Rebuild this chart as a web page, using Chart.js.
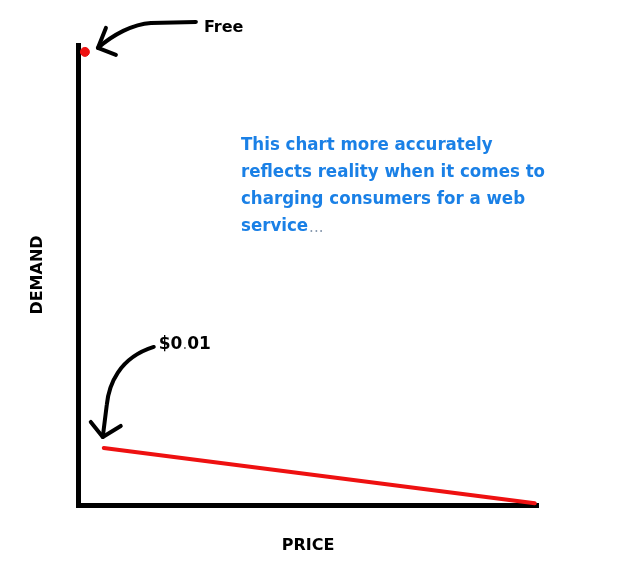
<!DOCTYPE html>
<html lang="en">
  <head>
    <meta charset="UTF-8" />
    <title>Price vs Demand</title>
    <style>
      body {
        margin: 0;
        padding: 0;
        background-color: white;
      }
    </style>
  </head>
  <body>
    <canvas id="demandChart" width="618" height="588"></canvas>

    <script src="https://cdn.jsdelivr.net/npm/chart.js"></script>
    <script>
      // price on x (0-100), demand on y (0-100)
      const freePrice = [1.5];
      const freeDemand = [98.5];
      const paidPrice = [5.6, 99.3];
      const paidDemand = [12.4, 0.4];

      const xTitle = "PRICE";
      const yTitle = "DEMAND";
      const freeLabel = "Free";
      const paidLabel = ["$0", ".", "01"];
      const noteLines = [
        "This chart more accurately",
        "reflects reality when it comes to",
        "charging consumers for a web",
        "service",
      ];

      const boldFont = "bold 16px 'DejaVu Sans'";
      const noteFont = "bold 18.5px 'DejaVu Sans Condensed', 'DejaVu Sans'";
      const noteColor = "#1a80e6";

      function toPoints(xs, ys) {
        return xs.map((x, i) => ({ x: x, y: ys[i] }));
      }

      function arrowHead(ctx, tx, ty, ax, ay, bx, by) {
        ctx.beginPath();
        ctx.moveTo(ax, ay);
        ctx.lineTo(tx, ty);
        ctx.lineTo(bx, by);
        ctx.stroke();
      }

      const notesPlugin = {
        id: "notes",
        afterDatasetsDraw(chart) {
          const ctx = chart.ctx;
          const area = chart.chartArea;
          const dot = chart.getDatasetMeta(0).data[0];
          const start = chart.getDatasetMeta(1).data[0];

          ctx.save();
          ctx.strokeStyle = "black";
          ctx.lineWidth = 4;
          ctx.lineCap = "round";
          ctx.lineJoin = "round";

          // arrow pointing at the free point
          let px = dot.x, py = dot.y;
          ctx.beginPath();
          ctx.moveTo(px + 111, py - 30);
          ctx.lineTo(px + 66, py - 29);
          ctx.bezierCurveTo(px + 48, py - 28, px + 28, py - 17, px + 13, py - 4);
          ctx.stroke();
          arrowHead(ctx, px + 13, py - 4, px + 21, py - 24, px + 31, py + 3);

          // arrow pointing at the first paid point
          px = start.x; py = start.y;
          ctx.beginPath();
          ctx.moveTo(px + 50, py - 101);
          ctx.bezierCurveTo(px + 15, py - 90, px + 5, py - 63, px + 3, py - 43);
          ctx.lineTo(px - 1, py - 11);
          ctx.stroke();
          arrowHead(ctx, px - 1, py - 11, px - 13, py - 26, px + 17, py - 22);

          ctx.textBaseline = "middle";
          ctx.textAlign = "left";
          ctx.fillStyle = "black";
          ctx.font = boldFont;
          ctx.fillText(freeLabel, dot.x + 119, dot.y - 24);

          // $0.01 with a faint dot
          let tx = start.x + 55;
          const ty = start.y - 103;
          paidLabel.forEach((part) => {
            if (part === ".") {
              ctx.font = "15px 'DejaVu Sans'";
              ctx.fillStyle = "#666";
            } else {
              ctx.font = "bold 17px 'DejaVu Sans'";
              ctx.fillStyle = "black";
            }
            ctx.fillText(part, tx, ty);
            tx += ctx.measureText(part).width;
          });

          noteLines.forEach((line, i) => {
            const y = area.top + 100 + i * 27;
            ctx.font = noteFont;
            ctx.fillStyle = noteColor;
            ctx.fillText(line, area.left + 163, y);
            if (i === noteLines.length - 1) {
              const w = ctx.measureText(line).width;
              ctx.font = "15px 'DejaVu Sans'";
              ctx.fillStyle = "#8a9bb0";
              ctx.fillText("...", area.left + 163 + w + 1, y + 2);
            }
          });
          ctx.restore();
        },
      };

      const ctx = document.getElementById("demandChart").getContext("2d");

      new Chart(ctx, {
        type: "scatter",
        data: {
          datasets: [
            {
              data: toPoints(freePrice, freeDemand),
              backgroundColor: "#ee1111",
              borderColor: "#ee1111",
              pointRadius: 4.5,
              showLine: false,
            },
            {
              data: toPoints(paidPrice, paidDemand),
              borderColor: "#ee1111",
              borderWidth: 4,
              pointRadius: 0,
              showLine: true,
              borderCapStyle: "round",
            },
          ],
        },
        options: {
          responsive: false,
          animation: false,
          devicePixelRatio: 1,
          clip: false,
          layout: {
            padding: { left: 0, top: 45, right: 80, bottom: 0 },
          },
          scales: {
            x: {
              type: "linear",
              min: 0,
              max: 100,
              grid: { display: false },
              ticks: { display: false },
              border: { display: true, color: "black", width: 5 },
              title: {
                display: true,
                text: xTitle,
                color: "black",
                font: { family: "DejaVu Sans", size: 16, weight: "bold" },
                padding: { top: 0, bottom: 33 },
              },
              afterFit(scale) {
                scale.height = 83;
              },
            },
            y: {
              type: "linear",
              min: 0,
              max: 100,
              grid: { display: false },
              ticks: { display: false },
              border: { display: true, color: "black", width: 5 },
              title: {
                display: true,
                text: yTitle,
                color: "black",
                font: { family: "DejaVu Sans", size: 16, weight: "bold" },
                padding: { top: 28, bottom: 0 },
              },
              afterFit(scale) {
                scale.width = 78;
              },
            },
          },
          plugins: {
            legend: { display: false },
            tooltip: { enabled: false },
          },
        },
        plugins: [notesPlugin],
      });
    </script>
  </body>
</html>
